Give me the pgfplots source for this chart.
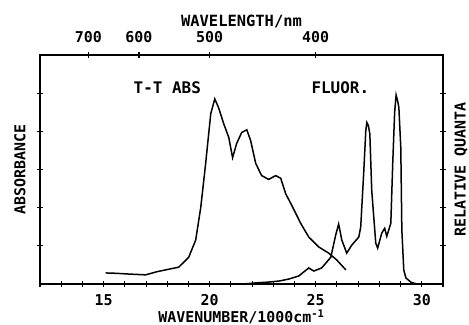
\documentclass[border=0pt]{standalone}
\usepackage{pgfplots}
\pgfplotsset{compat=1.18}
\usepackage{fontspec}
\setmainfont{DejaVu Sans Mono}
\pgfplotstableread{
x y
15.09 0.29
15.60 0.28
16.20 0.26
16.98 0.24
17.50 0.32
17.92 0.37
18.54 0.44
19.01 0.70
19.34 1.15
19.58 2.01
19.81 3.16
20.05 4.46
20.24 4.85
20.42 4.62
20.66 4.20
20.90 3.84
21.08 3.31
21.27 3.68
21.51 3.97
21.75 4.04
21.93 3.76
22.17 3.16
22.45 2.84
22.78 2.74
23.11 2.84
23.35 2.77
23.58 2.37
23.87 2.06
24.29 1.59
24.67 1.23
25.14 0.97
25.61 0.81
25.99 0.63
26.42 0.37
}\abs
\pgfplotstableread{
x y
21.60 0.00
22.20 0.03
22.78 0.05
23.30 0.08
23.73 0.13
24.20 0.21
24.67 0.42
24.91 0.34
25.28 0.42
25.71 0.70
25.94 1.28
26.08 1.57
26.23 1.15
26.46 0.81
26.70 1.02
27.03 1.23
27.12 1.49
27.26 2.90
27.36 4.02
27.41 4.23
27.48 4.15
27.55 3.94
27.64 2.45
27.83 1.07
27.92 0.94
28.11 1.33
28.25 1.46
28.35 1.25
28.54 1.59
28.63 3.16
28.72 4.50
28.79 4.95
28.86 4.80
28.92 4.62
29.01 3.57
29.06 1.41
29.15 0.37
29.25 0.16
29.48 0.05
29.76 0.00
}\fluor
\begin{document}
\begin{tikzpicture}
\pgfplotsset{
  common/.style={
    scale only axis, width=403bp, height=229bp,
    at={(0,0)}, anchor=south west,
    xmin=12, xmax=31, ymin=0, ymax=6,
    axis line style={line width=1.5bp},
    tick align=center,
    major tick length=6bp, minor tick length=6bp,
    every tick/.style={black, line width=1.1bp},
    tick label style={font=\fontsize{15}{17}\selectfont\bfseries, inner sep=0pt},
    label style={font=\fontsize{15.5}{18}\selectfont\bfseries, inner sep=0pt},
    /pgf/number format/assume math mode=true,
  }
}
\begin{axis}[common,
  xtick={15,20,25,30}, xticklabels={15,20,25,30},
  minor xtick={12,13,...,31},
  xtick pos=left,
  ytick={1,2,3,4,5}, yticklabels={},
  ytick pos=left,
  xticklabel style={anchor=center, yshift=-13.5bp},
  xlabel={WAVENUMBER/1000cm\textsuperscript{-1}},
  xlabel style={at={(axis description cs:0.5,-0.1440)}, anchor=center, font=\fontsize{15}{17}\selectfont\bfseries},
  ylabel={ABSORBANCE},
  ylabel style={at={(axis description cs:-0.0496,0.5)}, anchor=center, font=\fontsize{15}{17}\selectfont\bfseries},
]
\addplot[black, line width=1.5bp, no markers] table[x=x,y=y] {\abs};
\addplot[black, line width=1.5bp, no markers] table[x=x,y=y] {\fluor};
\node[font=\fontsize{16}{18}\selectfont\bfseries] at (axis cs:18.0,5.14) {T-T ABS};
\node[font=\fontsize{16}{18}\selectfont\bfseries] at (axis cs:26.16,5.14) {FLUOR.};
\end{axis}
\begin{axis}[common,
  xtick={14.2857,16.6667,20,25}, xticklabels={700,600,500,400},
  xtick pos=right,
  ytick={1,2,3,4,5}, yticklabels={},
  ytick pos=right,
  xticklabel style={anchor=center, yshift=15bp},
  xlabel={WAVELENGTH/nm},
  xlabel style={at={(axis description cs:0.5,1.1485)}, anchor=center},
  ylabel={RELATIVE QUANTA},
  ylabel style={at={(axis description cs:1.0447,0.5)}, anchor=center, font=\fontsize{15}{17}\selectfont\bfseries},
]
\end{axis}
\useasboundingbox (-40bp,-41bp) rectangle (429bp,284bp);
\end{tikzpicture}
\end{document}
